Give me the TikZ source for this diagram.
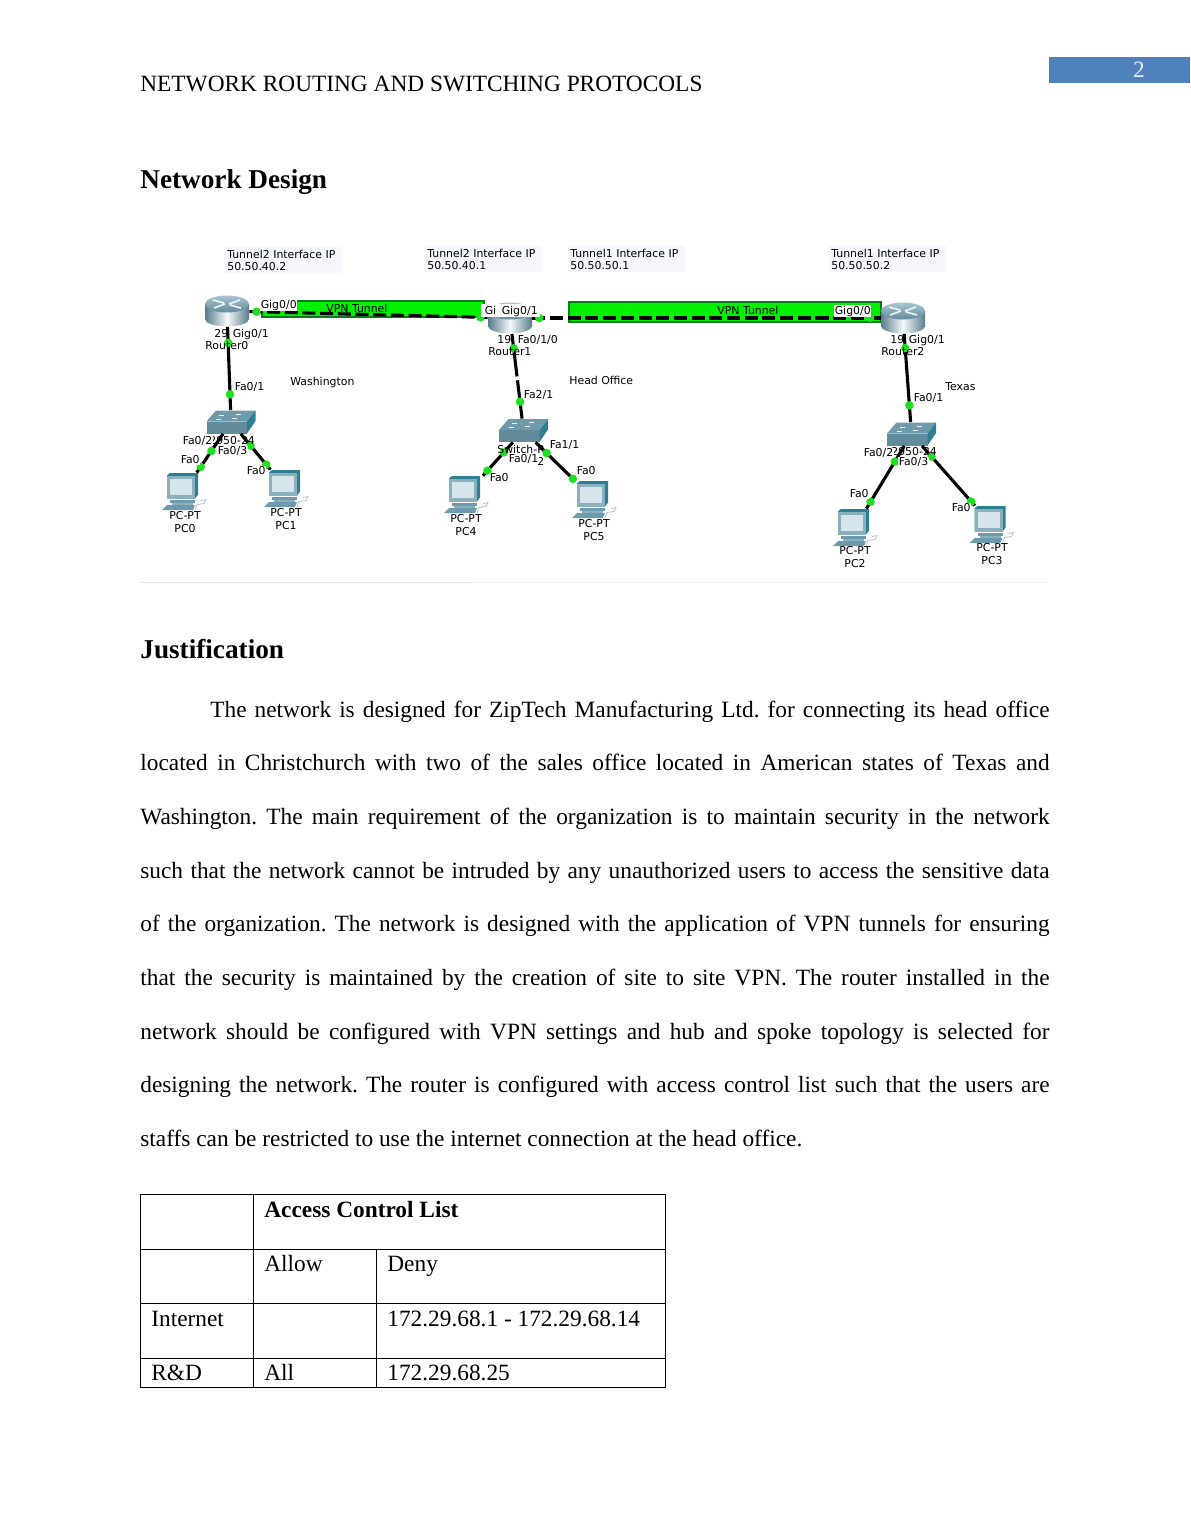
\documentclass[tikz,border=0pt]{standalone}
\usepackage{fontspec}
\setmainfont{Liberation Serif}
\newfontfamily\ptfont{DejaVu Sans}
\definecolor{hdrblue}{HTML}{4F81BD}
\definecolor{tunnelgreen}{HTML}{00F000}
\definecolor{tunneledge}{HTML}{0B7A1E}
\definecolor{portgreen}{HTML}{1FE01F}
\definecolor{ipback}{HTML}{F5F7FC}
\definecolor{devlight}{HTML}{A9C6D2}
\definecolor{devmid}{HTML}{6D9BAD}
\definecolor{devdark}{HTML}{2F7F93}
\definecolor{scrn}{HTML}{D6E4EC}
\tikzset{
  pics/router/.style={code={
    \shade[left color=devmid!80!black,right color=devmid!80!black,middle color=white!90!devlight] (-22,-7) rectangle (22,8);
    \shade[left color=devmid!80!black,right color=devmid!80!black,middle color=white!90!devlight] (0,8) ellipse [x radius=22,y radius=7.5];
    \shade[top color=devlight,bottom color=devmid!90!black] (0,-7) ellipse [x radius=22,y radius=8.5];
    \draw[white!85!devlight,line width=.8pt] (-14,-11) -- (-3,-8) (14,-3) -- (3,-6) (13,-11) -- (2,-7) (-13,-3) -- (-2,-7);
    \node[routerbox] (-dev) at (0,0) {};
  }},
  pics/switch/.style={code={
    \fill[devmid] (-24.5,-.5) -- (-15,-11.5) -- (24.5,-11.5) -- (16,-.5) -- cycle;
    \fill[devmid!90!black] (-24.5,-.5) rectangle (16,11.5);
    \fill[devdark] (16,-.5) -- (24.5,-11.5) -- (24.5,-1) -- (16,11.5) -- cycle;
    \draw[white,line width=.5pt] (-12,-7) -- (-7,-7) (5,-8) -- (10,-8) (-15,-3) -- (-10,-3) (1,-4) -- (6,-4);
    \node[switchbox] (-dev) at (0,0) {};
  }},
  pics/pcbox/.style={code={
    \fill[devdark] (-17,-16) -- (-14,-18.5) -- (14,-18.5) -- (14,3) -- (11,7) -- (-17,7) -- cycle;
    \fill[devmid!80!white] (-17,-16) rectangle (11,7);
    \fill[scrn] (-14,-13) rectangle (8,3);
    \fill[devmid] (-14,8) rectangle (11,11);
    \fill[devmid!80!white] (-12,11) rectangle (9,13);
    \fill[devmid] (-22,18.5) -- (-17,13.5) -- (11,13.5) -- (9,18.5) -- cycle;
    \draw[devlight,line width=.4pt] (11,18) -- (13,13) -- (20,12) -- (22,8) -- (17,9);
    \node[pcdev] (-dev) at (0,0) {};
  }}
}
\begin{document}
\frenchspacing
\begin{tikzpicture}[
           x = 0.5143pt,
           y = -0.5143pt,
   routerbox/.style = {inner sep=0pt, minimum width=22.6pt, minimum height=16pt},
   switchbox/.style = {inner sep=0pt, minimum width=25.2pt, minimum height=11.8pt},
       pcdev/.style = {inner sep=0pt, minimum width=22.6pt, minimum height=19pt},
        link/.style = {line width=1.6pt},
      tunnel/.style = {link, dash pattern=on 6.7pt off 2.4pt},
        port/.style = {circle, fill=portgreen, inner sep=0pt, minimum size=4.4pt},
       ptlbl/.style = {anchor=west, inner sep=0pt, font=\ptfont\fontsize{5.6}{6.5}\selectfont},
     portlbl/.style = {ptlbl, fill=white, inner xsep=.2pt, inner ysep=.4pt},
      ipnote/.style = {ptlbl, anchor=north west, fill=ipback, align=left, inner xsep=1pt, inner ysep=.4pt,
                       text width=58.2pt, minimum height=13.4pt},
      pclbl/.style  = {inner sep=0pt, align=center, font=\ptfont\fontsize{5.6}{6.5}\selectfont},
     bodytxt/.style = {anchor=base west, inner sep=0pt, font=\fontsize{12}{14}\selectfont}
                        ]
\useasboundingbox (0,0) rectangle (1190,1540);
% header
\fill[hdrblue] (1049,57) rectangle (1190,83);
\node[bodytxt, anchor=base, text=white!85!hdrblue] (pagenum) at (1139,77) {2};
\node[bodytxt] (runhead) at (140,91) {NETWORK ROUTING AND SWITCHING PROTOCOLS};
\node[bodytxt, font=\fontsize{14}{16}\bfseries\selectfont] (design) at (140,188) {Network Design};
% tunnel labels
\foreach \x/\y/\tun/\ip [count=\i] in {225/247/2/50.50.40.2, 425/246/2/50.50.40.1, 568/246/1/50.50.50.1, 829/246/1/50.50.50.2}
  \node[ipnote] (ip\i) at (\x,\y) {Tunnel\tun{} Interface IP\\\ip};
% green tunnels
\filldraw[fill=tunnelgreen,draw=tunneledge,line width=.6pt] (262,301) rectangle (484,317);
\filldraw[fill=tunnelgreen,draw=tunneledge,line width=.6pt] (569,302) rectangle (881,322);
\draw[black!10,line width=.5pt] (140,582.5) -- (472,582.5);
\draw[black!5,line width=.5pt] (472,582.5) -- (1048,582.5);
% devices
\pic (Router0) at (227,311) {router};
\pic (Router1) at (510,318) {router};
\pic (Router2) at (903,318) {router};
\pic (Switch0) at (231,422) {switch};
\pic (Switch1) at (523.5,430.5) {switch};
\pic (Switch2) at (911.5,434) {switch};
\pic (PC0) at (184,491.5) {pcbox};
\pic (PC1) at (286,488.5) {pcbox};
\pic (PC4) at (466,494.5) {pcbox};
\pic (PC5) at (594,499.5) {pcbox};
\pic (PC2) at (855,527.5) {pcbox};
\pic (PC3) at (991.5,524.5) {pcbox};
% links
\draw[tunnel] (Router0-dev) -- node[port,pos=.03] (p1) {} node[port,pos=.97] (p2) {} (Router1-dev);
\draw[tunnel] (Router1-dev) -- node[port,pos=.02] (p3) {} node[port,pos=.97] (p4) {} (Router2-dev);
\draw[link, dash pattern=on 22pt off 2pt] (Router1-dev) -- node[port,pos=.17] (p5) {} node[port,pos=.8] (p6) {} (Switch1-dev);
\foreach \a/\b/\p/\q in {Router0/Switch0/.19/.81, Router2/Switch2/.16/.81,
                         Switch0/PC0/.44/.85, Switch0/PC1/.33/.86,
                         Switch1/PC4/.3/.85, Switch1/PC5/.28/.95,
                         Switch2/PC2/.25/.89, Switch2/PC3/.18/.93}
  \draw[link] (\a-dev) -- node[port,pos=\p] (\a\b p) {} node[port,pos=\q] (\a\b q) {} (\b-dev);
% labels on the links
\foreach \x/\y/\txt [count=\i] in {326/308/VPN Tunnel, 717/310/VPN Tunnel,
                                   214/334/29, 205/346/Router0, 497/340/19, 488/352/Router1, 890/340/19, 881/352/Router2,
                                   290/382/Washington, 569/380/Head Office, 945/387/Texas,
                                   209/441/2950-24, 497/449/Switch-P, 537/461/2, 891/452/2950-24}
  \node[ptlbl] (dev\i) at (\x,\y) {\txt};
\fill[white] (481,304) rectangle (540,317);
\foreach \x/\y/\txt [count=\i] in {260/305/{Gig0/0}, 484/310/Gi, 501/311/{Gig0/1}, 834/311/{Gig0/0}, 232/334/{Gig0/1}, 517/340/{Fa0/1/0}, 908/340/{Gig0/1},
                                   234/387/{Fa0/1}, 523/395/{Fa2/1}, 913/398/{Fa0/1},
                                   182/441/{Fa0/2}, 217/451/{Fa0/3}, 180/460/Fa0, 246/471/Fa0,
                                   549/445/{Fa1/1}, 508/459/{Fa0/1}, 489/478/Fa0, 576/471/Fa0,
                                   863/453/{Fa0/2}, 898/462/{Fa0/3}, 849/494/Fa0, 951/508/Fa0}
  \node[portlbl] (if\i) at (\x,\y) {\txt};
\foreach \x/\y/\nm [count=\i] in {185/522/PC0, 286/519/PC1, 466/525/PC4, 594/530/PC5, 855/557/PC2, 992/554/PC3}
  \node[pclbl] (pctxt\i) at (\x,\y) {PC-PT\\\nm};
% text
\node[bodytxt, font=\fontsize{14}{16}\bfseries\selectfont] (just) at (140,658) {Justification};
\node[anchor=north west, inner sep=0pt, text width=467.6pt, align=justify, font=\fontsize{12}{27.6}\selectfont] (para) at (140,700.5) {%
\hspace*{36pt}The network is designed for ZipTech Manufacturing Ltd. for connecting its head office\linebreak
located in Christchurch with two of the sales office located in American states of Texas and\linebreak
Washington. The main requirement of the organization is to maintain security in the network\linebreak
such that the network cannot be intruded by any unauthorized users to access the sensitive data\linebreak
of the organization. The network is designed with the application of VPN tunnels for ensuring\linebreak
that the security is maintained by the creation of site to site VPN. The router installed in the\linebreak
network should be configured with VPN settings and hub and spoke topology is selected for\linebreak
designing the network. The router is configured with access control list such that the users are\linebreak
staffs can be restricted to use the internet connection at the head office.};
% table
\draw[line width=.5pt] (140,1194) rectangle (665,1387.5);
\foreach \y in {1249,1303,1358}
  \draw[line width=.5pt] (140,\y) -- (665,\y);
\draw[line width=.5pt] (253,1194) -- (253,1387.5);
\draw[line width=.5pt] (376,1249) -- (376,1387.5);
\node[bodytxt, font=\fontsize{12}{14}\bfseries\selectfont] (acl) at (264,1217) {Access Control List};
\foreach \x/\y/\txt [count=\i] in {264/1271/Allow, 387/1271/Deny, 151/1326/Internet, 387/1326/172.29.68.1 - 172.29.68.14,
                                   151/1380/R\&D, 264/1380/All, 387/1380/172.29.68.25}
  \node[bodytxt] (cell\i) at (\x,\y) {\txt};
\end{tikzpicture}
\end{document}
